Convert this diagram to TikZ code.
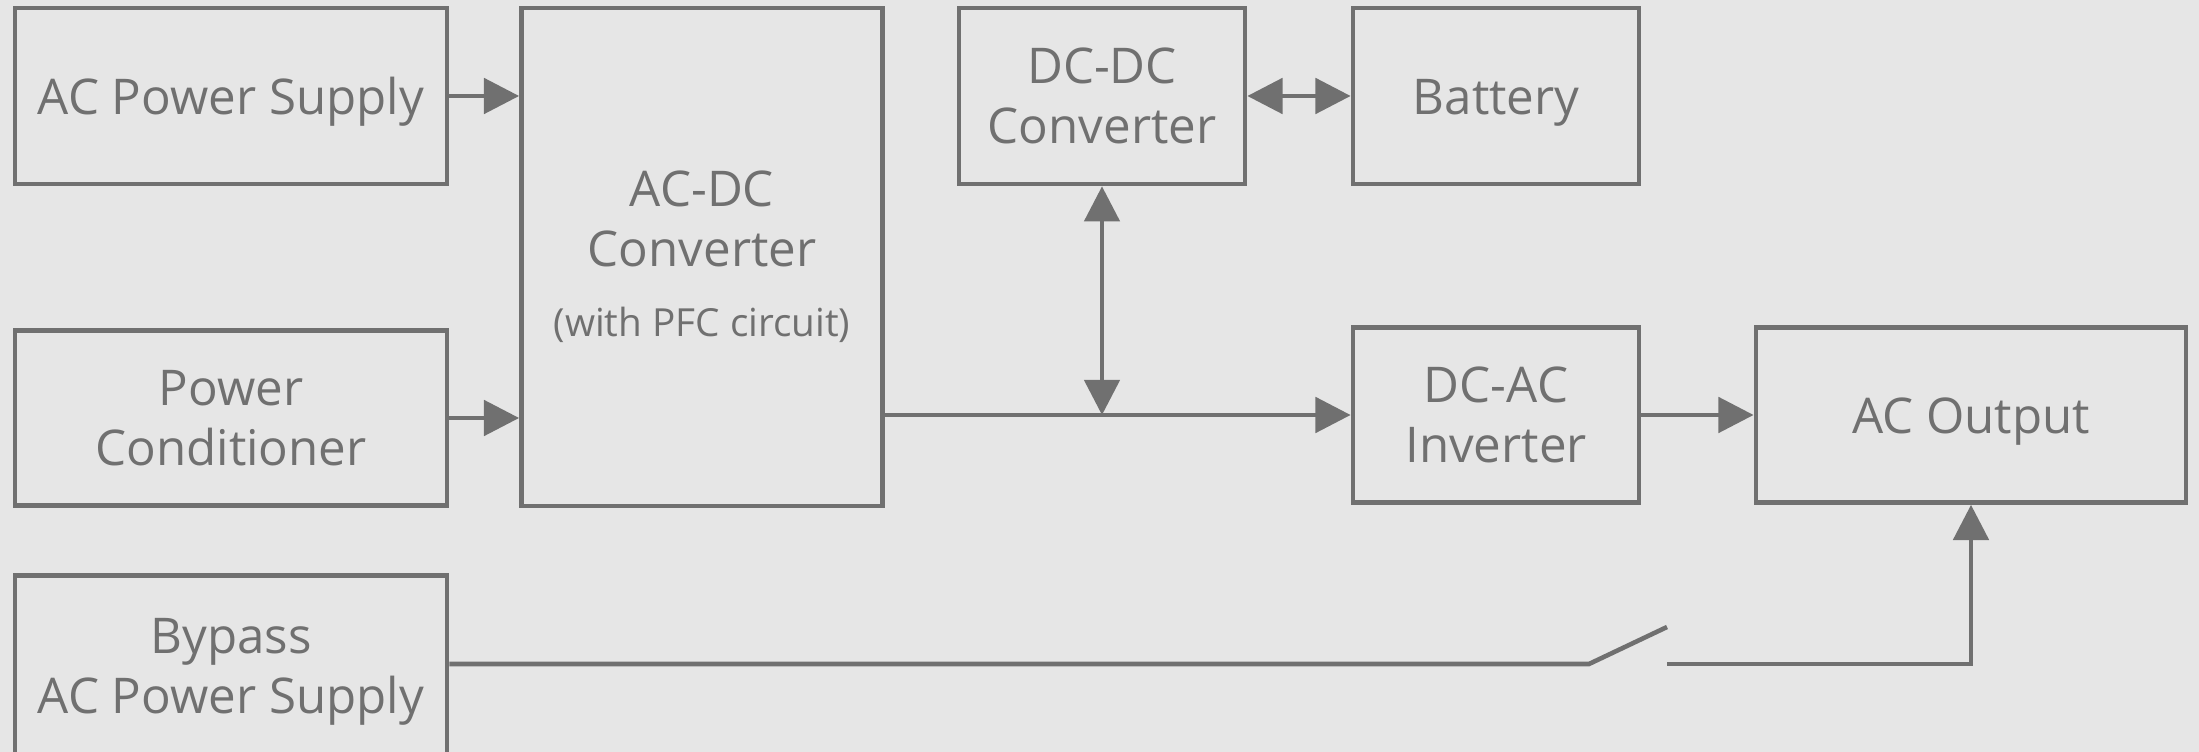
\documentclass[tikz,border=0pt]{standalone}
\usepackage{fontspec}
\setmainfont{Open Sans}
\usetikzlibrary{arrows.meta}
\definecolor{linegray}{RGB}{112,112,112}
\definecolor{bggray}{RGB}{230,230,230}

\tikzset{
  block/.style={
    draw        = linegray,
    line width  = 1.3pt,
    text        = linegray,
    inner sep   = 0pt,
    align       = center,
    font        = \fontsize{14}{17}\selectfont,
    execute at begin node = \rule{0pt}{14pt}
  },
  flow/.style={
    draw        = linegray,
    line width  = 1.3pt,
    -{Triangle[length=10pt,width=10pt]}
  },
  dualflow/.style={
    flow,
    {Triangle[length=10pt,width=10pt]}-{Triangle[length=10pt,width=10pt]}
  },
  wire/.style={
    draw        = linegray,
    line width  = 1.3pt
  }
}

\begin{document}
\begin{tikzpicture}[x=0.01cm, y=-0.01cm]
  \fill[bggray] (0,0) rectangle (2199,752);
  \useasboundingbox (0,0) rectangle (2199,752);

  % input side
  \node[block, minimum width=4.32cm, minimum height=1.76cm] (acsupply) at (231,96) {AC Power Supply};
  \node[block, minimum width=4.32cm, minimum height=1.75cm] (conditioner) at (231,418) {Power\\Conditioner};
  \node[block, minimum width=4.32cm, minimum height=1.93cm] (bypass) at (231,672) {Bypass\\AC Power Supply};

  \node[block, minimum width=3.61cm, minimum height=4.98cm] (acdc) at (702,257) {%
    AC-DC\\Converter\\[3pt]{\fontsize{11}{14}\selectfont (with PFC circuit)}};

  % storage and output side
  \node[block, minimum width=2.86cm, minimum height=1.76cm] (dcdc) at (1102,96) {DC-DC\\Converter};
  \node[block, minimum width=2.86cm, minimum height=1.76cm] (battery) at (1496,96) {Battery};
  \node[block, minimum width=2.86cm, minimum height=1.75cm] (inverter) at (1496,415) {DC-AC\\Inverter};
  \node[block, minimum width=4.30cm, minimum height=1.75cm] (acout) at (1971,415) {AC Output};

  % bypass switch
  \coordinate (swa) at (1589,664);
  \coordinate (swb) at (1667,627);
  \coordinate (swc) at (1667,664);

  \draw[flow] (acsupply.east) -- (acsupply.east -| acdc.west);
  \draw[flow] (conditioner.east) -- (conditioner.east -| acdc.west);
  \draw[flow] (acdc.east |- inverter.west) -- (inverter.west);
  \draw[dualflow] (dcdc.south) -- (dcdc.south |- inverter.west);
  \draw[dualflow] (dcdc.east) -- (battery.west);
  \draw[flow] (inverter.east) -- (acout.west);

  \draw[wire] (bypass.east |- swa) -- (swa) -- (swb);
  \draw[flow] (swc) -| (acout.south);
\end{tikzpicture}
\end{document}
